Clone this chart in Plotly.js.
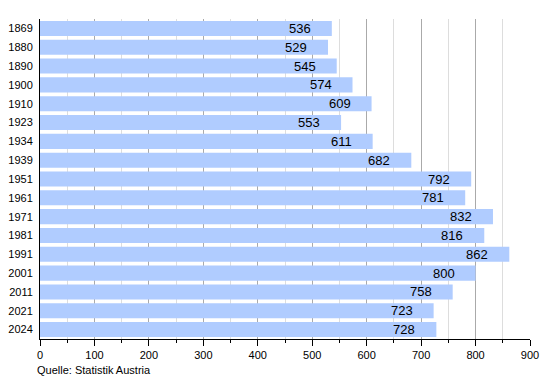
<!DOCTYPE html>
<html><head><meta charset="utf-8">
<script src="https://cdn.plot.ly/plotly-3.0.1.min.js"></script>
<style>html,body{margin:0;padding:0;background:#fff;}#chart{width:550px;height:380px;}</style>
</head><body><div id="chart"></div>
<script>
const years = ["1869","1880","1890","1900","1910","1923","1934","1939","1951","1961","1971","1981","1991","2001","2011","2021","2024"];
const values = [536,529,545,574,609,553,611,682,792,781,832,816,862,800,758,723,728];
const xTicks = [0,100,200,300,400,500,600,700,800,900];
const sourceText = "Quelle: Statistik Austria";

const font = "Liberation Sans, Arial, sans-serif";
const trace = {
  type: 'bar', orientation: 'h', y: years, x: values,
  marker: {color: '#b0ccff', line: {width: 0}},
  hoverinfo: 'none'
};
const annotations = years.map((y, i) => ({
  x: values[i], y: i, xref: 'x', yref: 'y', text: String(values[i]),
  showarrow: false, xanchor: 'right', xshift: -19, yshift: 0,
  font: {family: font, size: 13, color: '#000'}
}));
annotations.push({
  xref: 'paper', yref: 'paper', x: 0, y: 0, yshift: -23, xshift: -5,
  xanchor: 'left', yanchor: 'top', text: sourceText, showarrow: false,
  font: {family: font, size: 11, color: '#000'}
});
const layout = {
  width: 550, height: 380,
  margin: {l: 40, r: 20, t: 19, b: 41, pad: 0},
  paper_bgcolor: '#fff', plot_bgcolor: '#fff',
  bargap: 0.2, showlegend: false,
  font: {family: font, size: 11, color: '#000'},
  xaxis: {
    range: [0, 900], tickvals: xTicks, ticks: 'outside', ticklen: 6, tickwidth: 1,
    tickcolor: '#000', showline: true, linecolor: '#000', linewidth: 1,
    showgrid: true, gridcolor: '#aaaaaa', gridwidth: 1, zeroline: false,
    tickfont: {family: font, size: 11, color: '#000'},
    minor: {dtick: 50, tick0: 0, showgrid: true, gridcolor: '#dddddd', gridwidth: 1,
            ticks: 'outside', ticklen: 3, tickcolor: '#000'},
    fixedrange: true
  },
  yaxis: {
    type: 'category', categoryorder: 'array', categoryarray: years,
    range: [years.length - 0.5, -0.5], autorange: false,
    showline: true, linecolor: '#000', linewidth: 1,
    ticks: '', showgrid: false, zeroline: false,
    tickfont: {family: font, size: 11, color: '#000'}, ticklabelstandoff: 4,
    fixedrange: true
  },
  annotations: annotations
};
Plotly.newPlot('chart', [trace], layout, {staticPlot: true, displayModeBar: false});
</script></body></html>
